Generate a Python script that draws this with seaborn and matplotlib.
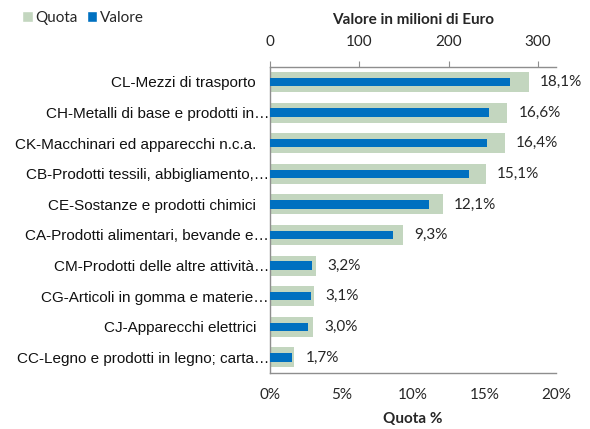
import matplotlib
matplotlib.use("Agg")
import matplotlib.pyplot as plt
import seaborn as sns
import pandas as pd
from matplotlib.patches import Patch

categories = [
    "CL-Mezzi di trasporto",
    "CH-Metalli di base e prodotti in…",
    "CK-Macchinari ed apparecchi n.c.a.",
    "CB-Prodotti tessili, abbigliamento,…",
    "CE-Sostanze e prodotti chimici",
    "CA-Prodotti alimentari, bevande e…",
    "CM-Prodotti delle altre attività…",
    "CG-Articoli in gomma e materie…",
    "CJ-Apparecchi elettrici",
    "CC-Legno e prodotti in legno; carta…",
]
quota = [18.1, 16.6, 16.4, 15.1, 12.1, 9.3, 3.2, 3.1, 3.0, 1.7]
valore = [268, 245, 243, 223, 178, 138, 47, 46, 43, 25]
quota_ticks = [0, 5, 10, 15, 20]
valore_ticks = [0, 100, 200, 300]

GREEN = "#C3D6BF"
BLUE = "#0070C0"
GREY = "#8E8E8E"
NUMFONT = "Lato"
CATFONT = "Liberation Sans"

sns.set_style("white")
plt.rcParams["font.family"] = ["Lato", "DejaVu Sans"]

df = pd.DataFrame({"cat": categories, "quota": quota, "valore": valore})

fig = plt.figure(figsize=(5.9, 4.29), dpi=100)
ax = fig.add_axes([270 / 590, 1 - 372.7 / 429, (556 - 270) / 590, (372.7 - 66.7) / 429])

sns.barplot(data=df, x="quota", y="cat", orient="h", color=GREEN, width=0.65,
            saturation=1, linewidth=0, ax=ax, zorder=2)
ax2 = ax.twiny()
sns.barplot(data=df, x="valore", y="cat", orient="h", color=BLUE, width=0.28,
            saturation=1, linewidth=0, ax=ax2, zorder=3)

# bottom axis (Quota %)
ax.set_xlim(0, 20)
ax.set_xticks(quota_ticks)
ax.set_xticklabels([f"{t}%" for t in quota_ticks], fontfamily=NUMFONT, fontsize=11)
ax.tick_params(axis="x", length=0, pad=11)
ax.set_xlabel("Quota %", fontfamily=NUMFONT, fontsize=11, fontweight="bold", labelpad=7)
ax.set_ylabel("")

# category labels
ax.set_yticks(range(len(categories)))
ax.set_yticklabels(categories, fontfamily=CATFONT, fontsize=11, color="#111111")
ax.tick_params(axis="y", length=0)
for tick, lab in zip(ax.yaxis.get_major_ticks(), categories):
    tick.set_pad(0.7 if lab.endswith("…") else 10)

# data labels
labels = [f"{q:.1f}%".replace(".", ",") for q in quota]
ax.bar_label(ax.containers[0], labels=labels, padding=8, fontfamily=NUMFONT, fontsize=11)

# top axis (Valore)
ax2.set_xlim(0, 320)
ax2.set_xticks(valore_ticks)
ax2.set_xticklabels([str(t) for t in valore_ticks], fontfamily=NUMFONT, fontsize=11)
ax2.tick_params(axis="x", length=4, color=GREY, pad=9)
ax2.set_xlabel("Valore in milioni di Euro", fontfamily=NUMFONT, fontsize=11,
               fontweight="bold", labelpad=8)
ax2.set_ylabel("")

for a in (ax, ax2):
    for s in a.spines.values():
        s.set_visible(False)
        s.set_color(GREY)
        s.set_linewidth(1)
ax.spines["left"].set_visible(True)
ax.spines["bottom"].set_visible(True)
ax2.spines["top"].set_visible(True)

handles = [Patch(facecolor=GREEN, label="Quota"), Patch(facecolor=BLUE, label="Valore")]
fig.legend(handles=handles, loc="upper left", bbox_to_anchor=(22 / 590, 0.975), ncol=2,
           frameon=False, handlelength=0.7, handleheight=0.7, handletextpad=0.15,
           columnspacing=0.6, borderpad=0, borderaxespad=0,
           prop={"family": NUMFONT, "size": 11})

fig.savefig("out.png", dpi=100)
